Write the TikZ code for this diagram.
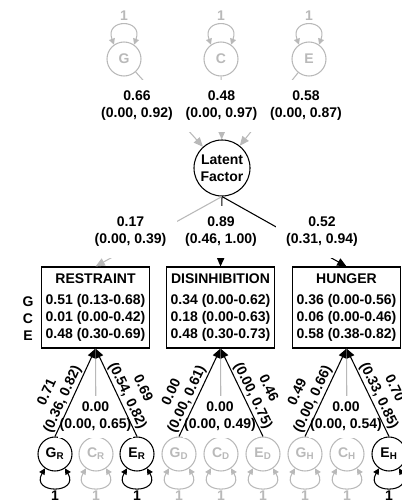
\documentclass[tikz,border=0pt]{standalone}
\usepackage{fontspec}
\setmainfont{Liberation Sans}
\usetikzlibrary{arrows.meta}
\definecolor{lgray}{RGB}{185,185,185}
\tikzset{
  every node/.style={font=\fontsize{10.5}{12.75}\selectfont\bfseries},
  var/.style={circle, draw, line width=0.8pt, minimum size=25.5pt, inner sep=0pt},
  faded/.style={draw=lgray, text=lgray},
  box/.style={draw, line width=0.8pt, align=center, minimum width=81pt, minimum height=60.75pt, inner sep=0pt},
  link/.style={line width=0.8pt, -{Triangle[length=7pt,width=6pt]}},
  loopy/.style={line width=0.8pt, {Triangle[length=4.5pt,width=4.5pt]}-{Triangle[length=4.5pt,width=4.5pt]}},
  est/.style={fill=white, align=center, inner xsep=8pt, inner ysep=8pt},
  slope/.style={sloped, above, align=center, inner sep=1pt}
}
\begin{document}
\begin{tikzpicture}[x=0.75pt,y=0.75pt]
\useasboundingbox (0,0) rectangle (401,-502);

\node[var,faded] (g) at (124,-59) {G};
\node[var,faded] (c) at (221,-59) {C};
\node[var,faded] (e) at (309,-59) {E};
\node[text=lgray] (g1) at (124,-16) {1};
\node[text=lgray] (c1) at (221,-16) {1};
\node[text=lgray] (e1) at (309,-16) {1};
\draw[loopy,lgray] (g.125) .. controls +(110:28) and +(70:28) .. (g.55);
\draw[loopy,lgray] (c.125) .. controls +(110:28) and +(70:28) .. (c.55);
\draw[loopy,lgray] (e.125) .. controls +(110:28) and +(70:28) .. (e.55);

\node[var,minimum size=42pt,align=center] (lat) at (222,-168) {Latent\\Factor};

\draw[link,lgray] (g) -- (lat);
\draw[link,lgray] (c) -- (lat);
\draw[link,lgray] (e) -- (lat);
\node[est] (l66) at (137,-106) {0.66\\(0.00, 0.92)};
\node[est] (l48) at (221.5,-106) {0.48\\(0.00, 0.97)};
\node[est] (l58) at (306,-106) {0.58\\(0.00, 0.87)};

\node[box] (res) at (95.5,-307.5) {RESTRAINT\\[3pt]0.51 (0.13-0.68)\\0.01 (0.00-0.42)\\0.48 (0.30-0.69)};
\node[box] (dis) at (220.5,-307.5) {DISINHIBITION\\[3pt]0.34 (0.00-0.62)\\0.18 (0.00-0.63)\\0.48 (0.30-0.73)};
\node[box] (hun) at (346.5,-307.5) {HUNGER\\[3pt]0.36 (0.00-0.56)\\0.06 (0.00-0.46)\\0.58 (0.38-0.82)};
\node (rowg) at (28,-302) {G};
\node (rowc) at (28,-319) {C};
\node (rowe) at (28,-336) {E};

\draw[link] (lat.south) -- (dis.north);
\node[est,inner xsep=1pt] (l89) at (221,-232) {0.89\\(0.46, 1.00)};
\draw[link,lgray] (lat.south) -- (res.north);
\draw[link] (lat.south) -- (hun.north);
\node[est] (l17) at (130.5,-232) {0.17\\(0.00, 0.39)};
\node[est] (l52) at (322,-232) {0.52\\(0.31, 0.94)};

\node[var] (gr) at (55,-454) {G\textsubscript{R}};
\node[var,faded] (cr) at (96,-454) {C\textsubscript{R}};
\node[var] (er) at (137,-454) {E\textsubscript{R}};
\node[var,faded] (gd) at (179,-454) {G\textsubscript{D}};
\node[var,faded] (cd) at (221,-454) {C\textsubscript{D}};
\node[var,faded] (ed) at (263,-454) {E\textsubscript{D}};
\node[var,faded] (gh) at (305,-454) {G\textsubscript{H}};
\node[var,faded] (ch) at (347,-454) {C\textsubscript{H}};
\node[var] (eh) at (389,-454) {E\textsubscript{H}};

\draw[loopy] (gr.235) .. controls +(240:30) and +(300:30) .. (gr.305);
\draw[loopy,lgray] (cr.235) .. controls +(240:30) and +(300:30) .. (cr.305);
\draw[loopy] (er.235) .. controls +(240:30) and +(300:30) .. (er.305);
\draw[loopy,lgray] (gd.235) .. controls +(240:30) and +(300:30) .. (gd.305);
\draw[loopy,lgray] (cd.235) .. controls +(240:30) and +(300:30) .. (cd.305);
\draw[loopy,lgray] (ed.235) .. controls +(240:30) and +(300:30) .. (ed.305);
\draw[loopy,lgray] (gh.235) .. controls +(240:30) and +(300:30) .. (gh.305);
\draw[loopy,lgray] (ch.235) .. controls +(240:30) and +(300:30) .. (ch.305);
\draw[loopy] (eh.235) .. controls +(240:30) and +(300:30) .. (eh.305);
\node (gr1) at (55,-496) {1};
\node[text=lgray] (cr1) at (96,-496) {1};
\node (er1) at (137,-496) {1};
\node[text=lgray] (gd1) at (179,-496) {1};
\node[text=lgray] (cd1) at (221,-496) {1};
\node[text=lgray] (ed1) at (263,-496) {1};
\node[text=lgray] (gh1) at (305,-496) {1};
\node[text=lgray] (ch1) at (347,-496) {1};
\node (eh1) at (389,-496) {1};

\draw[link,lgray] (cr.north) -- (res.south);
\draw[link,lgray] (cd.north) -- (dis.south);
\draw[link,lgray] (ch.north) -- (hun.south);
\node[est,inner xsep=1pt,inner ysep=4.5pt] (mr) at (95.5,-417) {0.00\\(0.00, 0.65)};
\node[est,inner xsep=1pt,inner ysep=4.5pt] (md) at (220,-417) {0.00\\(0.00, 0.49)};
\node[est,inner xsep=1pt,inner ysep=4.5pt] (mh) at (346,-417) {0.00\\(0.00, 0.54)};

\draw[link] (gr.north) -- node[slope,pos=0.38] (sgr) {0.71\\(0.36, 0.82)} (res.south);
\draw[link] (er.north) -- node[slope,pos=0.42] (ser) {0.69\\(0.54, 0.82)} (res.south);
\draw[link] (gd.north) -- node[slope,pos=0.38] (sgd) {0.00\\(0.00, 0.61)} (dis.south);
\draw[link] (ed.north) -- node[slope,pos=0.42] (sed) {0.46\\(0.00, 0.75)} (dis.south);
\draw[link] (gh.north) -- node[slope,pos=0.38] (sgh) {0.49\\(0.00, 0.66)} (hun.south);
\draw[link] (eh.north) -- node[slope,pos=0.42] (seh) {0.70\\(0.33, 0.85)} (hun.south);
\end{tikzpicture}
\end{document}
